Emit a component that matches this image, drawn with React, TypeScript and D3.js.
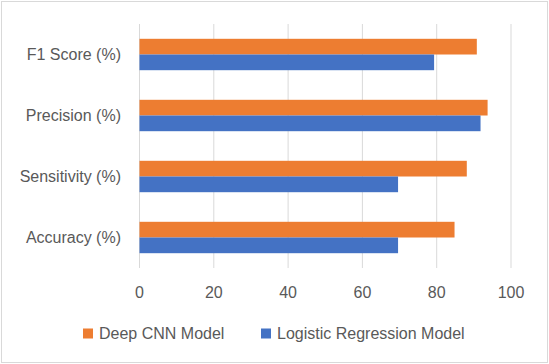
import * as d3 from 'd3';
import React from 'react';

// categories, top to bottom as drawn
const categories = ['F1 Score (%)', 'Precision (%)', 'Sensitivity (%)', 'Accuracy (%)'];
const seriesNames = ['Deep CNN Model', 'Logistic Regression Model'];
const cnnValues = [90.8, 93.7, 88.1, 84.8];
const logregValues = [79.3, 91.8, 69.6, 69.6];
const xTicks = [0, 20, 40, 60, 80, 100];

const colors = ['#ED7D31', '#4472C4'];

const App = () => {
  const width = 549;
  const height = 364;
  const plot = { left: 139.5, right: 511, top: 24, bottom: 268 };

  const x = d3.scaleLinear().domain([0, 100]).range([plot.left, plot.right]);
  const y = d3.scaleBand().domain(categories).range([plot.top, plot.bottom]);
  const barH = 15.7;

  const series = [cnnValues, logregValues];
  const font = '"Liberation Sans", Arial, sans-serif';

  return (
    <div style={{ position: 'fixed', left: 0, top: 0 }}>
      <svg width={width} height={height} style={{ display: 'block' }}>
        <rect x={0} y={0} width={width} height={height} fill="#fff" />
        <rect x={1.5} y={1.5} width={width - 3} height={height - 3} fill="none" stroke="#D9D9D9" strokeWidth={1} />

        {/* gridlines */}
        {xTicks.map(t => (
          <line key={t} x1={x(t)} x2={x(t)} y1={plot.top} y2={plot.bottom} stroke="#D9D9D9" strokeWidth={1} />
        ))}

        {/* bars */}
        {categories.map((c, i) => {
          const mid = (y(c) as number) + y.bandwidth() / 2;
          return (
            <g key={c}>
              {series.map((vals, s) => (
                <rect key={s} x={x(0)} y={mid - barH + s * barH} width={x(vals[i]) - x(0)} height={barH} fill={colors[s]} />
              ))}
              <text x={121} y={mid} dy="0.35em" textAnchor="end" fontFamily={font} fontSize={16} fill="#595959">{c}</text>
            </g>
          );
        })}

        {/* x tick labels */}
        {xTicks.map(t => (
          <text key={t} x={x(t)} y={292} dy="0.35em" textAnchor="middle" fontFamily={font} fontSize={16} fill="#595959">{t}</text>
        ))}

        {/* legend */}
        {seriesNames.map((n, i) => {
          const lx = i === 0 ? 83 : 261;
          return (
            <g key={n}>
              <rect x={lx} y={328.5} width={10} height={10} fill={colors[i]} />
              <text x={lx + 16} y={333.5} dy="0.35em" fontFamily={font} fontSize={16} fill="#595959">{n}</text>
            </g>
          );
        })}
      </svg>
    </div>
  );
};

export default App;
